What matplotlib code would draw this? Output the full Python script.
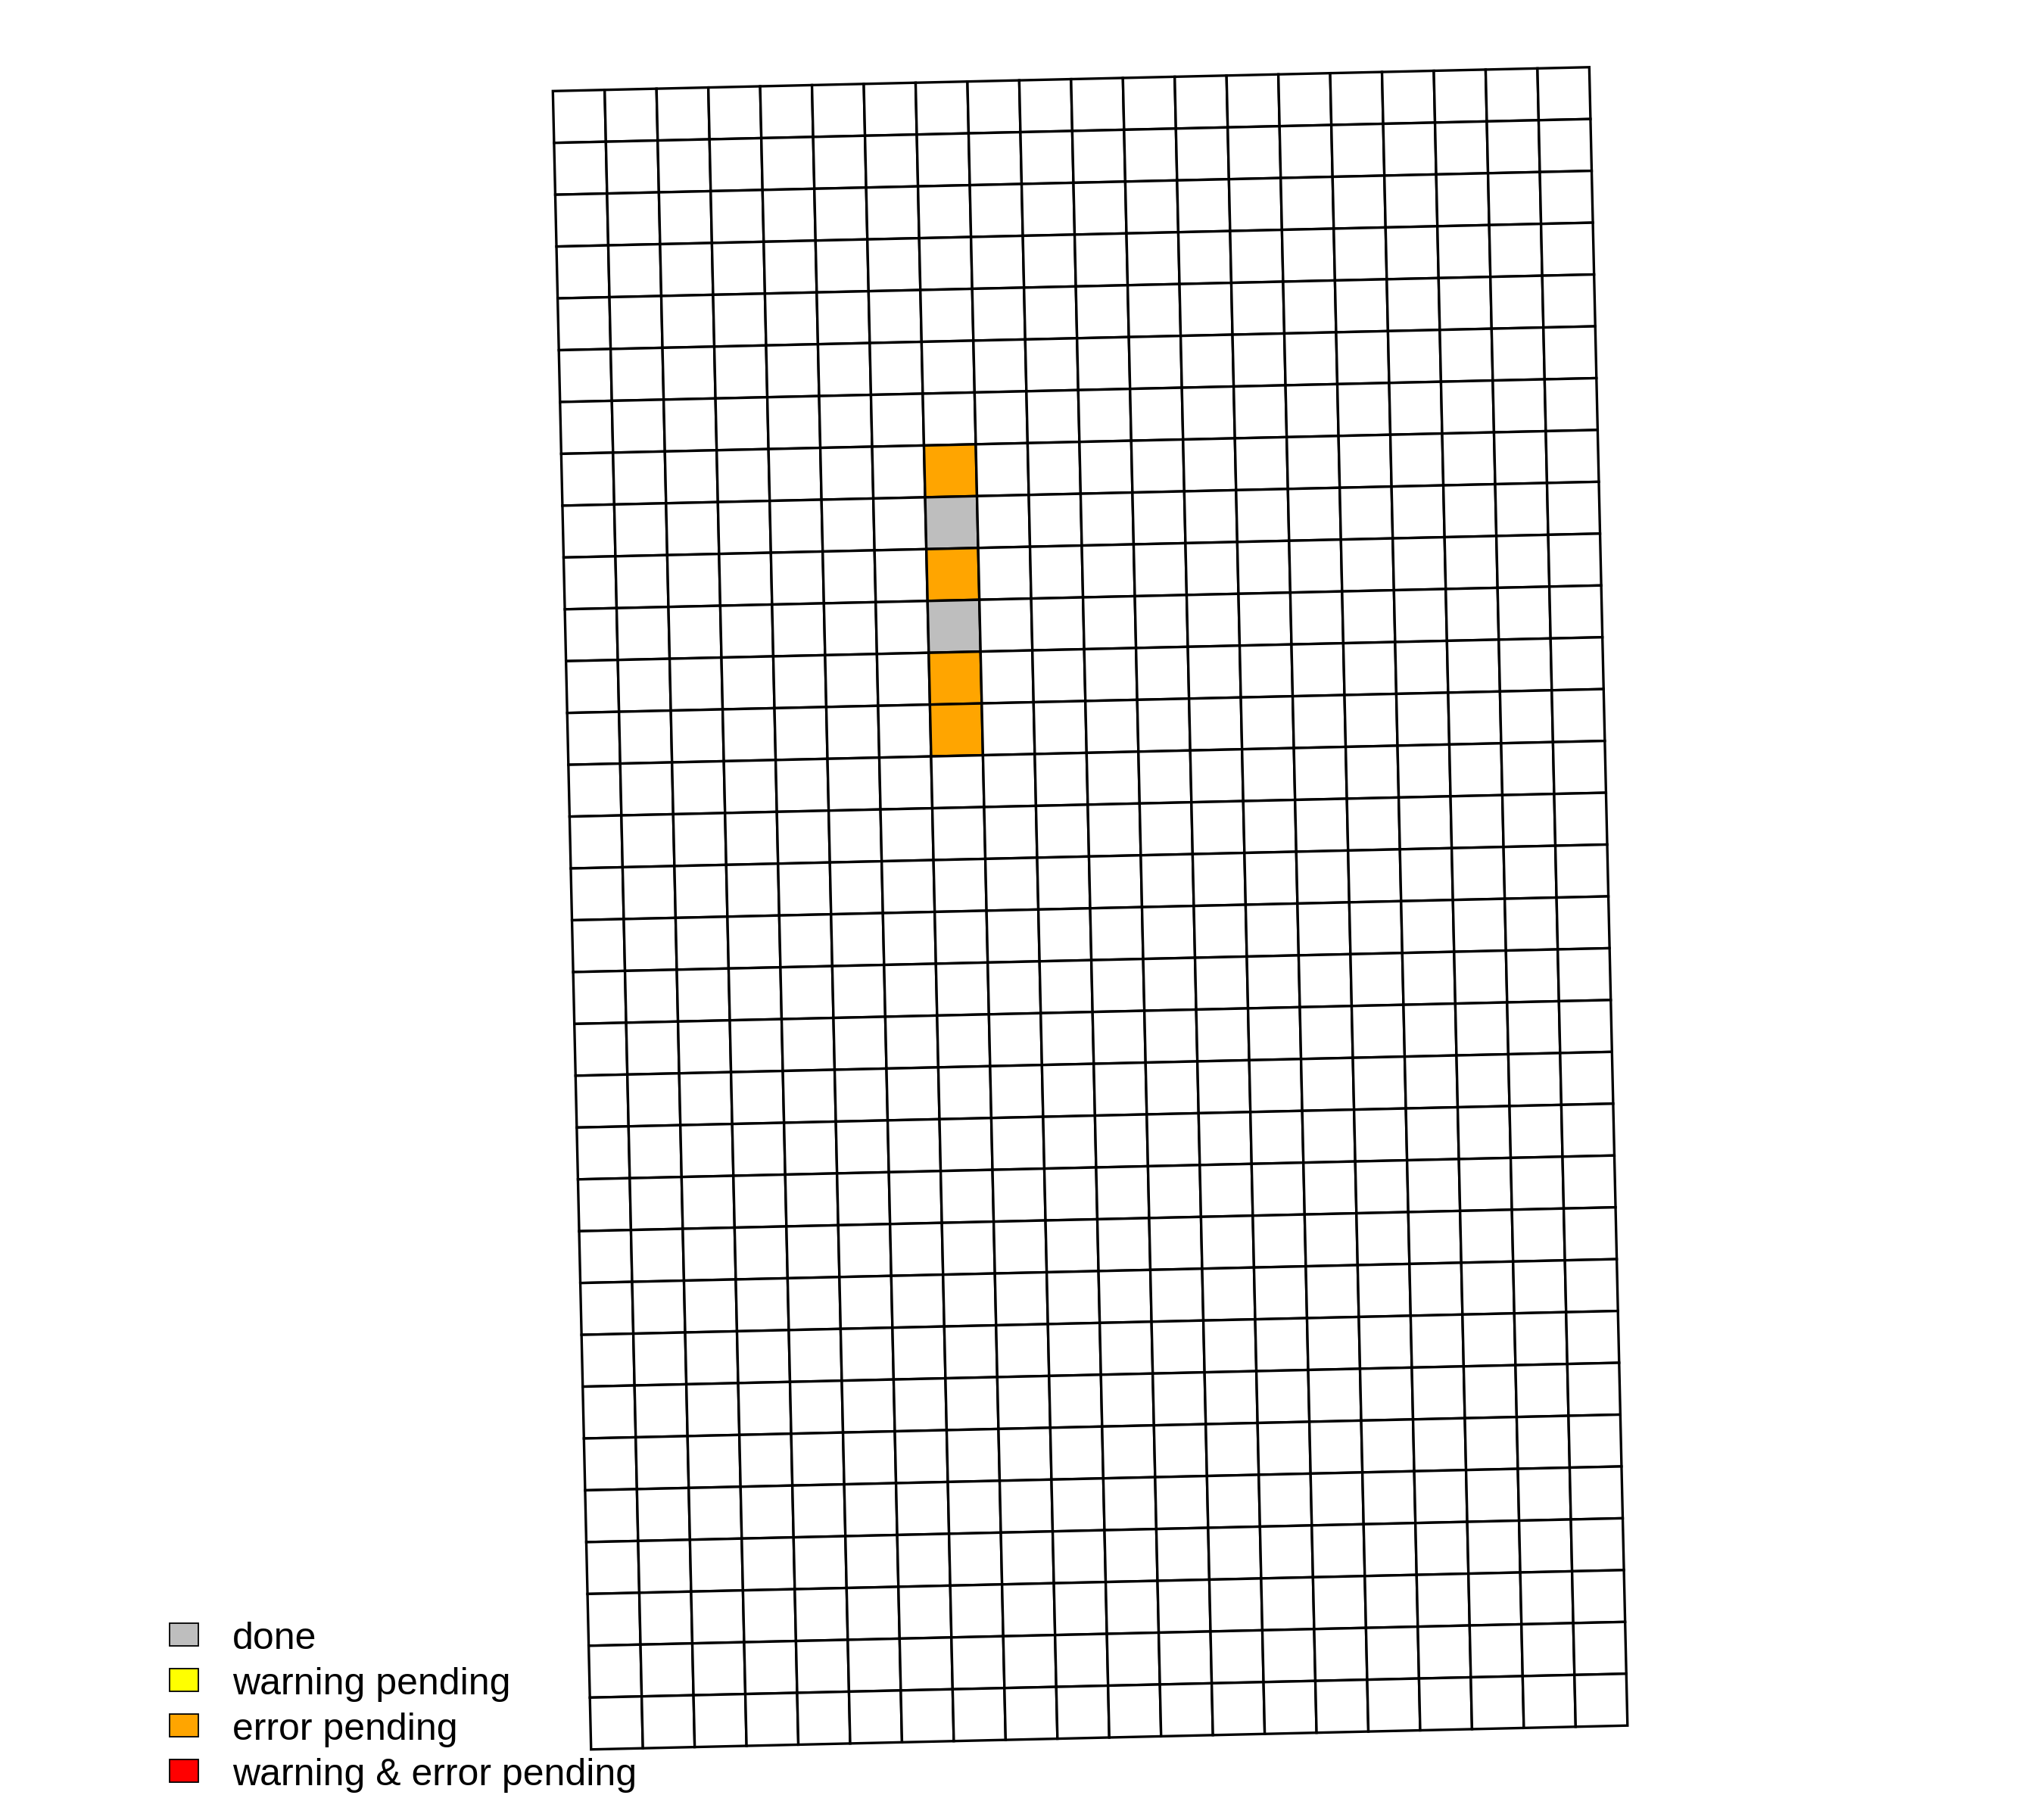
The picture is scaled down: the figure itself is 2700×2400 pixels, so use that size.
import matplotlib
matplotlib.use("Agg")
import matplotlib.pyplot as plt
from matplotlib.patches import Polygon, Rectangle
from matplotlib.transforms import Affine2D

plt.rcParams['font.family'] = ['Liberation Sans', 'DejaVu Sans']

# ---- data ----
n_rows = 32
n_cols = 20
status_col = 7
status_rows = [7, 8, 9, 10, 11, 12]
status_values = ["error pending", "done", "error pending", "done", "error pending", "error pending"]

legend_labels = ["done", "warning pending", "error pending", "warning & error pending"]
legend_colors = ["#BEBEBE", "#FFFF00", "#FFA500", "#FF0000"]
color_of = dict(zip(legend_labels, legend_colors))

# ---- figure ----
fig = plt.figure(figsize=(27, 24), dpi=100)
ax = fig.add_axes([0, 0, 1, 1])
ax.set_xlim(0, 2700)
ax.set_ylim(2400, 0)
ax.axis("off")

cell = 68.47
origin = (730.3, 120.3)
angle = -1.32
grid_tr = Affine2D().scale(cell).rotate_deg(angle).translate(*origin) + ax.transData

fill = {}
for r, s in zip(status_rows, status_values):
    fill[(r, status_col)] = color_of[s]

for r in range(n_rows):
    for c in range(n_cols):
        fc = fill.get((r, c), "white")
        p = Polygon([(c, r), (c + 1, r), (c + 1, r + 1), (c, r + 1)], closed=True,
                    facecolor=fc, edgecolor="black", linewidth=2.4, transform=grid_tr,
                    joinstyle="miter")
        ax.add_patch(p)

# ---- legend ----
leg_x = 224
leg_w = 38
leg_h = 30
leg_tops = [2144, 2204, 2264, 2324]
leg_baselines = [2178, 2238, 2298, 2358]
for lab, col, yt, yb in zip(legend_labels, legend_colors, leg_tops, leg_baselines):
    ax.add_patch(Rectangle((leg_x, yt), leg_w, leg_h, facecolor=col,
                           edgecolor="black", linewidth=1.3))
    ax.text(307, yb, lab, fontsize=36, va="baseline", ha="left", color="black")

fig.savefig("out.png", dpi=100, facecolor="white")
